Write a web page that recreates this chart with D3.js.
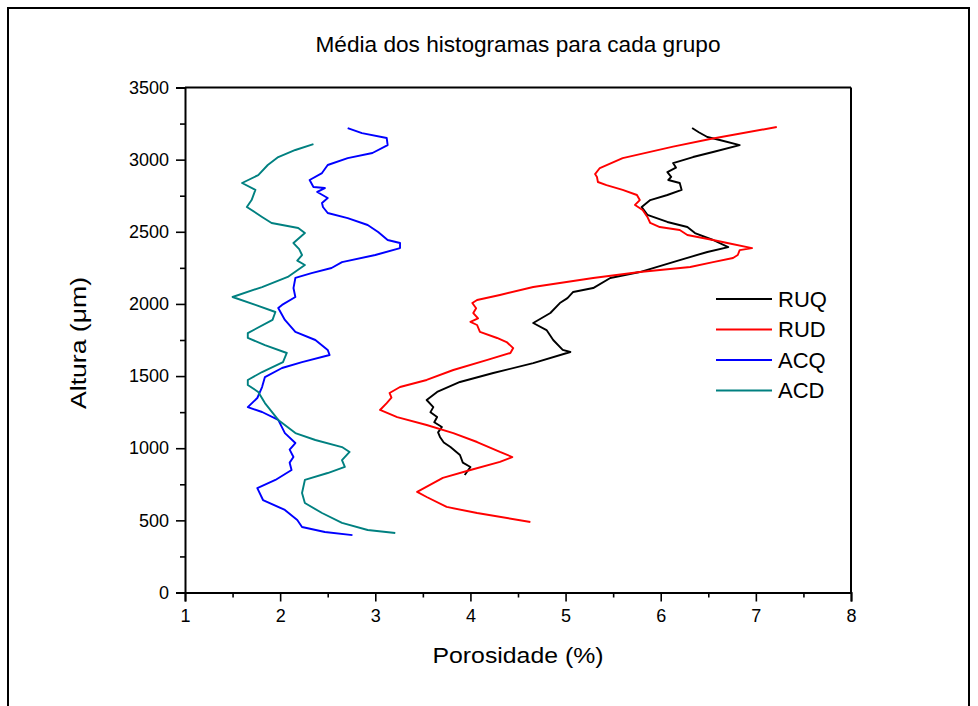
<!DOCTYPE html>
<html>
<head>
<meta charset="utf-8">
<script src="https://cdn.jsdelivr.net/npm/d3@7"></script>
<style>
  body { margin: 0; background: #fff; }
  svg { display: block; }
  text { font-family: "Liberation Sans", Arial, sans-serif; fill: #000; }
</style>
</head>
<body>
<div id="chart"></div>
<script>
// heights (µm) and porosity (%) for each group
const ruqHeight = [3219,3190,3157,3136,3101,3053,3018,2976,2945,2914,2880,2859,2838,2790,2755,2720,2672,2617,2568,2533,2491,2443,2394,2360,2304,2221,2180,2110,2083,2040,2006,1937,1868,1819,1750,1681,1667,1590,1521,1459,1390,1334,1285,1250,1216,1180,1147,1110,1078,1040,1008,953,900,870,814];
const ruqPoro   = [6.33,6.40,6.49,6.62,6.83,6.55,6.34,6.13,6.16,6.07,6.11,6.08,6.20,6.22,6.07,5.89,5.80,5.86,6.07,6.28,6.36,6.55,6.71,6.49,6.20,5.78,5.47,5.29,5.08,5.02,4.94,4.84,4.66,4.80,4.87,4.97,5.05,4.66,4.24,3.89,3.65,3.54,3.61,3.58,3.65,3.62,3.70,3.66,3.68,3.72,3.79,3.89,3.92,4.00,3.94];

const rudHeight = [3226,3143,3090,3011,2942,2900,2880,2845,2824,2790,2755,2720,2686,2651,2603,2561,2533,2512,2478,2443,2422,2387,2373,2339,2318,2290,2256,2221,2180,2117,2062,2027,2006,1970,1937,1900,1875,1854,1806,1764,1736,1694,1660,1611,1542,1473,1424,1383,1350,1313,1265,1216,1161,1105,1043,974,939,905,849,794,697,662,593,551,489];
const rudPoro   = [7.22,6.52,6.13,5.60,5.36,5.31,5.33,5.34,5.43,5.60,5.75,5.78,5.73,5.81,5.86,5.89,5.99,6.20,6.28,6.55,6.70,6.96,6.83,6.81,6.76,6.55,6.31,5.78,5.29,4.66,4.31,4.07,4.02,4.06,4.03,4.08,4.00,4.07,4.10,4.28,4.38,4.45,4.42,4.17,3.82,3.54,3.26,3.15,3.17,3.12,3.05,3.23,3.54,3.82,4.07,4.31,4.44,4.31,4.00,3.71,3.44,3.54,3.75,4.07,4.63];

const acqHeight = [3219,3184,3150,3101,3046,3011,2963,2907,2859,2810,2803,2776,2734,2700,2672,2630,2595,2547,2498,2443,2422,2387,2339,2290,2249,2214,2180,2110,2048,1993,1972,1889,1806,1750,1681,1646,1597,1556,1493,1424,1348,1285,1251,1196,1105,1036,990,939,900,849,780,724,641,572,502,454,419,398];
const acqPoro   = [2.71,2.86,3.12,3.13,2.97,2.71,2.50,2.44,2.31,2.35,2.47,2.39,2.50,2.44,2.45,2.50,2.71,2.92,3.03,3.13,3.26,3.26,3.00,2.65,2.54,2.33,2.16,2.14,2.16,2.02,1.98,2.05,2.16,2.37,2.50,2.52,2.23,2.02,1.84,1.81,1.76,1.66,1.81,1.98,2.05,2.16,2.10,2.14,2.10,2.12,1.95,1.76,1.82,2.05,2.18,2.23,2.47,2.76];

const acdHeight = [3108,3067,3018,2963,2893,2838,2790,2720,2672,2603,2561,2526,2491,2422,2380,2339,2300,2270,2187,2117,2048,1993,1944,1889,1798,1764,1715,1660,1597,1528,1473,1438,1390,1313,1196,1105,1057,1008,974,918,870,828,780,690,620,551,482,433,412];
const acdPoro   = [2.35,2.16,1.98,1.87,1.77,1.60,1.74,1.70,1.65,1.81,1.91,2.19,2.26,2.14,2.20,2.23,2.18,2.26,2.08,1.81,1.50,1.74,1.95,1.92,1.66,1.66,1.84,2.07,2.03,1.81,1.66,1.66,1.77,1.84,1.98,2.16,2.37,2.65,2.73,2.65,2.68,2.50,2.26,2.23,2.26,2.44,2.65,2.92,3.21];

const groups = ["RUQ", "RUD", "ACQ", "ACD"];
const colors = ["#000000", "#ff0000", "#0000ff", "#008080"];
const xTicks = [1,2,3,4,5,6,7,8];
const yTicks = [0,500,1000,1500,2000,2500,3000,3500];

const series = [
  {id: "RUQ", h: ruqHeight, p: ruqPoro},
  {id: "RUD", h: rudHeight, p: rudPoro},
  {id: "ACQ", h: acqHeight, p: acqPoro},
  {id: "ACD", h: acdHeight, p: acdPoro}
].map(function(s){
  return {id: s.id, values: s.h.map(function(h, i){ return {h: h, p: s.p[i]}; })};
});

const W = 978, H = 706;
const margin = {top: 87.5, right: 127, bottom: 113.5, left: 185};
const width = W - margin.left - margin.right;
const height = H - margin.top - margin.bottom;

const svg = d3.select("#chart").append("svg")
  .attr("width", W)
  .attr("height", H);

// outer frame
svg.append("rect")
  .attr("x", 8).attr("y", 8)
  .attr("width", 961).attr("height", 730)
  .attr("fill", "none").attr("stroke", "#000").attr("stroke-width", 2);

svg.append("text")
  .attr("x", margin.left + width / 2)
  .attr("y", 52)
  .attr("text-anchor", "middle")
  .attr("textLength", 405)
  .attr("lengthAdjust", "spacingAndGlyphs")
  .style("font-size", "22px")
  .text("Média dos histogramas para cada grupo");

const g = svg.append("g")
  .attr("transform", "translate(" + margin.left + "," + margin.top + ")");

const x = d3.scaleLinear().domain([1, 8]).range([0, width]);
const y = d3.scaleLinear().domain([0, 3500]).range([height, 0]);
const z = d3.scaleOrdinal().domain(groups).range(colors);

// minor ticks
g.append("g")
  .attr("transform", "translate(0," + height + ")")
  .call(d3.axisBottom(x).tickValues(d3.range(1.5, 8, 1)).tickSize(5).tickFormat(""))
  .call(function(a){ a.select(".domain").remove(); a.selectAll("line").attr("stroke-width", 1.6); });
g.append("g")
  .call(d3.axisLeft(y).tickValues(d3.range(250, 3500, 500)).tickSize(5).tickFormat(""))
  .call(function(a){ a.select(".domain").remove(); a.selectAll("line").attr("stroke-width", 1.6); });

// major axes
const xAxis = g.append("g")
  .attr("transform", "translate(0," + height + ")")
  .call(d3.axisBottom(x).tickValues(xTicks).tickSize(9).tickPadding(8).tickFormat(d3.format("d")));
const yAxis = g.append("g")
  .call(d3.axisLeft(y).tickValues(yTicks).tickSize(9).tickPadding(7).tickFormat(d3.format("d")));
[xAxis, yAxis].forEach(function(a){
  a.select(".domain").attr("stroke-width", 2);
  a.selectAll("line").attr("stroke-width", 1.6);
  a.selectAll("text").style("font-size", "18px").style("font-family", "'Liberation Sans', Arial, sans-serif").attr("fill", "#1a1a1a");
});

// top and right frame of plot
g.append("line").attr("x1", 0).attr("x2", width).attr("y1", 0).attr("y2", 0)
  .attr("stroke", "#000").attr("stroke-width", 2);
g.append("line").attr("x1", width).attr("x2", width).attr("y1", 0).attr("y2", height)
  .attr("stroke", "#000").attr("stroke-width", 2);

const line = d3.line()
  .x(function(d){ return x(d.p); })
  .y(function(d){ return y(d.h); });

g.selectAll(".serie")
  .data(series).enter()
  .append("path")
    .attr("class", "serie")
    .attr("d", function(d){ return line(d.values); })
    .attr("fill", "none")
    .attr("stroke", function(d){ return z(d.id); })
    .attr("stroke-width", 1.9)
    .attr("stroke-linejoin", "round");

// axis titles
svg.append("text")
  .attr("x", margin.left + width / 2)
  .attr("y", 663)
  .attr("text-anchor", "middle")
  .attr("textLength", 171)
  .attr("lengthAdjust", "spacingAndGlyphs")
  .style("font-size", "22px")
  .text("Porosidade (%)");

svg.append("text")
  .attr("transform", "translate(86," + (margin.top + height / 2 + 3) + ") rotate(-90)")
  .attr("text-anchor", "middle")
  .attr("textLength", 132)
  .attr("lengthAdjust", "spacingAndGlyphs")
  .style("font-size", "22px")
  .text("Altura (μm)");

// legend
const legend = svg.append("g").attr("transform", "translate(716,299)");
const item = legend.selectAll(".item")
  .data(groups).enter()
  .append("g")
    .attr("transform", function(d, i){ return "translate(0," + (i * 30.5) + ")"; });
item.append("line")
  .attr("x1", 0).attr("x2", 56)
  .attr("stroke", function(d){ return z(d); })
  .attr("stroke-width", 1.9);
item.append("text")
  .attr("x", 62)
  .attr("dy", "0.36em")
  .style("font-size", "22px")
  .text(function(d){ return d; });
</script>
</body>
</html>
